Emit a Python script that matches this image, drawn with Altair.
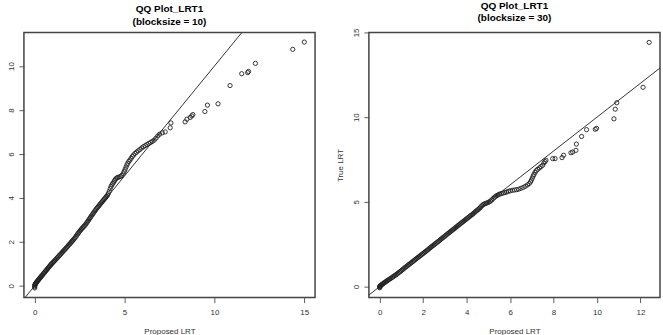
import altair as alt
import pandas as pd

FONT = "Liberation Sans"

# ---- Left panel (blocksize = 10): Proposed LRT vs True LRT quantiles ----
left_x = [0.00, 0.00, 0.00, 0.01, 0.02, 0.04, 0.06, 0.08, 0.10, 0.13, 0.16, 0.19, 0.22, 0.25,
          0.28, 0.31, 0.34, 0.37, 0.40, 0.44, 0.48, 0.52, 0.56, 0.60, 0.64, 0.68, 0.72, 0.76,
          0.80, 0.84, 0.88, 0.92, 0.96, 1.00, 1.05, 1.10, 1.15, 1.20, 1.25, 1.30, 1.35, 1.40,
          1.45, 1.50, 1.55, 1.60, 1.65, 1.70, 1.75, 1.80, 1.85, 1.90, 1.95, 2.00, 2.05, 2.10,
          2.15, 2.20, 2.25, 2.30, 2.35, 2.40, 2.45, 2.50, 2.55, 2.60, 2.65, 2.70, 2.75, 2.80,
          2.85, 2.90, 2.95, 3.00, 3.05, 3.10, 3.15, 3.20, 3.25, 3.30, 3.35, 3.40, 3.45, 3.50,
          3.55, 3.60, 3.65, 3.70, 3.75, 3.80, 3.85, 3.90, 3.95, 4.00,
          4.05, 4.10, 4.15, 4.20, 4.25, 4.30, 4.35, 4.40, 4.45, 4.50, 4.56, 4.62, 4.70, 4.78,
          4.85, 4.92, 4.98, 5.03, 5.08, 5.13, 5.18, 5.24, 5.30, 5.36, 5.43, 5.50, 5.58, 5.66,
          5.75, 5.85, 5.95, 6.05, 6.15, 6.25, 6.35, 6.45, 6.55, 6.65, 6.75, 6.85, 6.95, 7.10,
          7.26, 7.54, 7.58, 8.37, 8.47, 8.65, 8.74, 8.80, 9.47, 9.61, 10.20, 10.87, 11.52,
          11.85, 11.90, 12.28, 14.36, 15.00]
left_y = [-0.10, -0.05, 0.00, 0.03, 0.06, 0.08, 0.10, 0.13, 0.16, 0.19, 0.22, 0.25, 0.28, 0.31,
          0.34, 0.37, 0.40, 0.43, 0.46, 0.50, 0.54, 0.58, 0.62, 0.66, 0.70, 0.74, 0.78, 0.82,
          0.86, 0.90, 0.94, 0.98, 1.01, 1.05, 1.09, 1.13, 1.18, 1.22, 1.27, 1.31, 1.36, 1.40,
          1.45, 1.49, 1.54, 1.58, 1.63, 1.67, 1.72, 1.76, 1.81, 1.86, 1.90, 1.95, 2.00, 2.04,
          2.09, 2.14, 2.19, 2.25, 2.31, 2.37, 2.42, 2.48, 2.53, 2.58, 2.62, 2.67, 2.71, 2.76,
          2.81, 2.87, 2.93, 2.99, 3.05, 3.11, 3.17, 3.23, 3.29, 3.35, 3.41, 3.46, 3.52, 3.57,
          3.62, 3.67, 3.72, 3.77, 3.82, 3.87, 3.92, 3.97, 4.02, 4.07,
          4.12, 4.20, 4.30, 4.42, 4.52, 4.60, 4.66, 4.72, 4.80, 4.86, 4.90, 4.93, 4.95, 4.98,
          5.02, 5.10, 5.20, 5.30, 5.40, 5.50, 5.58, 5.66, 5.72, 5.80, 5.88, 5.95, 6.02, 6.08,
          6.14, 6.20, 6.27, 6.33, 6.38, 6.43, 6.48, 6.52, 6.57, 6.63, 6.72, 6.82, 6.90, 6.96,
          7.00, 7.19, 7.41, 7.46, 7.58, 7.66, 7.73, 7.79, 7.93, 8.22, 8.28, 9.11, 9.65,
          9.70, 9.75, 10.12, 10.76, 11.09]

# ---- Right panel (blocksize = 30) ----
right_x = [0.00, 0.00, 0.00, 0.01, 0.03, 0.05, 0.08, 0.11, 0.14, 0.17, 0.20, 0.24, 0.28, 0.32,
           0.36, 0.40, 0.45, 0.50, 0.55, 0.60, 0.65, 0.70, 0.75, 0.80, 0.85, 0.90, 0.95, 1.00,
           1.05, 1.10, 1.15, 1.20, 1.25, 1.30, 1.35, 1.40, 1.45, 1.50, 1.55, 1.60, 1.65, 1.70,
           1.75, 1.80, 1.85, 1.90, 1.95, 2.00, 2.05, 2.10, 2.15, 2.20, 2.25, 2.30, 2.35, 2.40,
           2.45, 2.50, 2.55, 2.60, 2.65, 2.70, 2.75, 2.80, 2.85, 2.90, 2.95, 3.00, 3.05, 3.10,
           3.15, 3.20, 3.25, 3.30, 3.35, 3.40, 3.45, 3.50, 3.55, 3.60, 3.65, 3.70, 3.75, 3.80,
           3.85, 3.90, 3.95, 4.00, 4.05, 4.10, 4.15, 4.20, 4.25, 4.30, 4.35, 4.40, 4.45, 4.50,
           4.55, 4.60, 4.65, 4.70, 4.75, 4.80, 4.86, 4.92, 4.98, 5.04, 5.10, 5.16, 5.22, 5.28,
           5.34, 5.40, 5.46, 5.52, 5.60, 5.68, 5.76, 5.84, 5.92, 6.00, 6.10, 6.20, 6.30, 6.40,
           6.50, 6.60, 6.70, 6.80, 6.88, 6.94, 6.98, 7.02, 7.06, 7.10, 7.15, 7.20, 7.27, 7.35,
           7.42, 7.50, 7.56, 7.61, 7.65,
           7.96, 8.07, 8.39, 8.46, 8.80, 8.88, 9.03, 9.05, 9.29, 9.52, 9.92, 9.98, 10.78, 10.84,
           10.91, 12.12, 12.40]
right_y = [-0.07, -0.03, 0.00, 0.03, 0.05, 0.07, 0.10, 0.13, 0.16, 0.19, 0.22, 0.25, 0.29, 0.33,
           0.36, 0.40, 0.44, 0.48, 0.52, 0.57, 0.61, 0.66, 0.70, 0.75, 0.80, 0.85, 0.90, 0.95,
           1.00, 1.05, 1.11, 1.16, 1.21, 1.26, 1.31, 1.36, 1.41, 1.46, 1.51, 1.56, 1.61, 1.66,
           1.71, 1.76, 1.81, 1.86, 1.91, 1.96, 2.01, 2.06, 2.11, 2.16, 2.21, 2.27, 2.32, 2.37,
           2.42, 2.47, 2.52, 2.57, 2.62, 2.67, 2.72, 2.78, 2.83, 2.88, 2.93, 2.98, 3.03, 3.09,
           3.14, 3.19, 3.24, 3.29, 3.34, 3.39, 3.44, 3.49, 3.54, 3.60, 3.65, 3.70, 3.75, 3.80,
           3.85, 3.90, 3.95, 4.00, 4.05, 4.10, 4.15, 4.20, 4.25, 4.30, 4.36, 4.42, 4.47, 4.52,
           4.57, 4.63, 4.70, 4.77, 4.83, 4.87, 4.90, 4.93, 4.96, 5.00, 5.05, 5.12, 5.20, 5.27,
           5.33, 5.38, 5.42, 5.46, 5.49, 5.52, 5.55, 5.58, 5.62, 5.65, 5.68, 5.70, 5.72, 5.75,
           5.80, 5.85, 5.92, 6.00, 6.08, 6.18, 6.28, 6.40, 6.52, 6.62, 6.74, 6.84, 6.92, 7.00,
           7.08, 7.16, 7.30, 7.38, 7.46,
           7.55, 7.55, 7.61, 7.75, 7.90, 7.94, 8.04, 8.41, 8.86, 9.26, 9.28, 9.34, 9.90, 10.47,
           10.85, 11.76, 14.41]

# reference line y = x (endpoints in data units, clipped to the panel)
ref_line = [-1.0, 16.0]

left_title = ["QQ Plot_LRT1", "(blocksize = 10)"]
right_title = ["QQ Plot_LRT1", "(blocksize = 30)"]
left_xticks = [0, 5, 10, 15]
left_yticks = [0, 2, 4, 6, 8, 10]
right_xticks = [0, 2, 4, 6, 8, 10, 12]
right_yticks = [0, 5, 10, 15]
# axis ranges (R's 4 % extension of the data range)
left_xdom, left_ydom = [-0.6, 15.6], [-0.54, 11.53]
right_xdom, right_ydom = [-0.5, 12.9], [-0.65, 15.0]

PW, PH = 292, 266


def panel(xs, ys, xdom, ydom, xticks, yticks, title_lines, ytitle):
    pts = pd.DataFrame({"x": xs, "y": ys})
    line = pd.DataFrame({"x": ref_line, "y": ref_line})
    box = pd.DataFrame({"x": [xdom[0]], "x2": [xdom[1]], "y": [ydom[0]], "y2": [ydom[1]]})
    xscale = alt.Scale(domain=xdom, nice=False, zero=False)
    yscale = alt.Scale(domain=ydom, nice=False, zero=False)
    common = dict(grid=False, domain=False,
                  tickSize=5, tickColor="#333", tickWidth=0.8,
                  labelFont=FONT, labelFontSize=8, labelColor="#333",
                  titleFont=FONT, titleFontSize=8, titleColor="#333",
                  titleFontWeight="normal")
    xaxis = alt.Axis(values=xticks, title="Proposed LRT", labelPadding=6,
                     titlePadding=11, **common)
    yaxis = alt.Axis(values=yticks, title=ytitle if ytitle else None, labelPadding=3,
                     labelAngle=270, labelAlign="center", labelBaseline="bottom",
                     titlePadding=8, **common)
    frame = alt.Chart(box).mark_rect(fillOpacity=0, fill="white", stroke="#444",
                                     strokeWidth=1.5).encode(
        x=alt.X("x:Q", scale=xscale, axis=xaxis), x2="x2:Q",
        y=alt.Y("y:Q", scale=yscale, axis=yaxis), y2="y2:Q",
    )
    ln = alt.Chart(line).mark_line(clip=True, color="#333", strokeWidth=1).encode(
        x=alt.X("x:Q", scale=xscale, axis=xaxis),
        y=alt.Y("y:Q", scale=yscale, axis=yaxis),
    )
    points = alt.Chart(pts).mark_point(shape="circle", filled=False, size=18,
                                       strokeWidth=0.9, color="#222", opacity=1).encode(
        x=alt.X("x:Q", scale=xscale, axis=xaxis),
        y=alt.Y("y:Q", scale=yscale, axis=yaxis),
    )
    return alt.layer(frame, ln, points).properties(
        width=PW, height=PH,
        title=alt.Title(title_lines, font=FONT, fontSize=10, fontWeight="bold",
                        color="black", anchor="middle", offset=5, lineHeight=12.5),
    )


left = panel(left_x, left_y, left_xdom, left_ydom, left_xticks, left_yticks,
             left_title, None)
right = panel(right_x, right_y, right_xdom, right_ydom, right_xticks, right_yticks,
              right_title, "True LRT")

chart = alt.hconcat(left, right, spacing=20).properties(
    padding={"left": 7, "top": 0, "right": 2, "bottom": 0},
    background="white",
).configure_view(stroke=None)

chart.save("out.html", embed_options={"renderer": "svg", "actions": False})
